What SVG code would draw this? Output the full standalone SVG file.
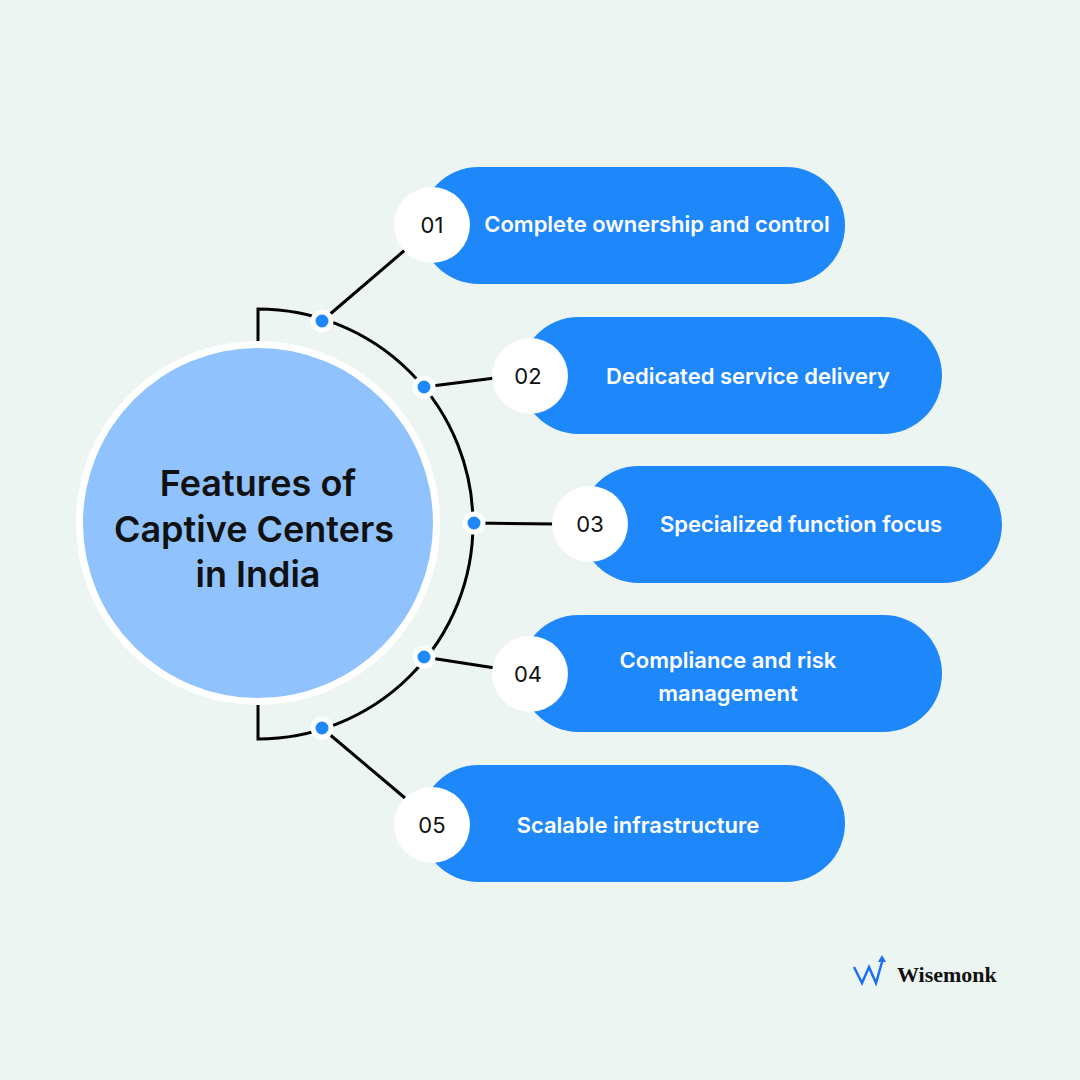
<svg xmlns="http://www.w3.org/2000/svg" width="1080" height="1080" viewBox="0 0 1080 1080">
<style>
.pill{fill:#1e88fb}
.num{fill:#fff}
.numt{font-family:Inter,"Liberation Sans",sans-serif;font-size:22px;fill:#111;text-anchor:middle}
.lbl{font-family:Inter,"Liberation Sans",sans-serif;font-size:22px;font-weight:600;fill:#fff;text-anchor:middle}
.ln{stroke:#000;stroke-width:3;fill:none}
.dot{fill:#1e88fb;stroke:#fff;stroke-width:5}
</style>
<rect width="1080" height="1080" fill="#edf5f3"/>
<g id="connectors">
<path class="ln" d="M258 342 V309 A215 215 0 0 1 473 524 A215 215 0 0 1 258 739 V705"/>
<line class="ln" x1="322" y1="321" x2="405" y2="250"/>
<line class="ln" x1="424" y1="387" x2="495" y2="378"/>
<line class="ln" x1="475" y1="523" x2="555" y2="524"/>
<line class="ln" x1="424" y1="657" x2="495" y2="668"/>
<line class="ln" x1="322" y1="728" x2="405" y2="798"/>
<circle class="dot" cx="322" cy="321" r="9"/>
<circle class="dot" cx="424" cy="387" r="9"/>
<circle class="dot" cx="474" cy="523" r="9"/>
<circle class="dot" cx="424" cy="657" r="9"/>
<circle class="dot" cx="322" cy="728" r="9"/>
</g>
<g id="center">
<circle cx="258" cy="523" r="182" fill="#fff"/>
<circle cx="258" cy="523" r="175" fill="#90c3fd"/>
<text font-family="Inter,'Liberation Sans',sans-serif" font-size="36" font-weight="600" fill="#111" text-anchor="middle">
<tspan x="258" y="496">Features of</tspan><tspan x="254" y="542">Captive Centers</tspan><tspan x="258" y="587">in India</tspan></text>
</g>
<g id="n1"><rect class="pill" x="420" y="167" width="425" height="117" rx="58.5"/><circle class="num" cx="432" cy="225" r="38"/><text class="numt" x="432" y="233">01</text><text class="lbl" x="657" y="232">Complete ownership and control</text></g>
<g id="n2"><rect class="pill" x="520" y="317" width="422" height="117" rx="58.5"/><circle class="num" cx="530" cy="376" r="38"/><text class="numt" x="528" y="384">02</text><text class="lbl" x="748" y="384">Dedicated service delivery</text></g>
<g id="n3"><rect class="pill" x="580" y="466" width="422" height="117" rx="58.5"/><circle class="num" cx="590" cy="524" r="38"/><text class="numt" x="590" y="532">03</text><text class="lbl" x="801" y="532">Specialized function focus</text></g>
<g id="n4"><rect class="pill" x="520" y="615" width="422" height="117" rx="58.5"/><circle class="num" cx="530" cy="674" r="38"/><text class="numt" x="528" y="682">04</text><text class="lbl" x="728" y="668">Compliance and risk</text><text class="lbl" x="728" y="701">management</text></g>
<g id="n5"><rect class="pill" x="420" y="765" width="425" height="117" rx="58.5"/><circle class="num" cx="432" cy="825" r="38"/><text class="numt" x="432" y="833">05</text><text class="lbl" x="638" y="833">Scalable infrastructure</text></g>
<g id="logo">
<path d="M854 967 L862 983 L869 967 L876 983 L882 962" stroke="#1e6ff0" stroke-width="2.5" fill="none"/>
<path d="M878 962 L882 955 L886 962 Z" fill="#1e6ff0"/>
<text x="897" y="982" font-family="'Liberation Serif',serif" font-size="22" font-weight="bold" fill="#111">Wisemonk</text>
</g>
</svg>
